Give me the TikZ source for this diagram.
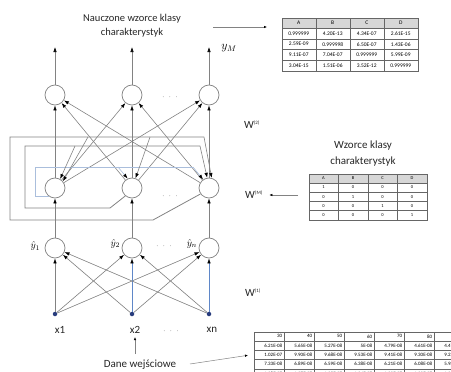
\documentclass[tikz,border=0pt]{standalone}
\usepackage{fontspec}
\setmainfont{Carlito}
\usetikzlibrary{arrows.meta,matrix,positioning}
\definecolor{Szary}{RGB}{130,130,130}
\definecolor{JasnySzary}{RGB}{215,215,215}
\definecolor{Niebieski}{RGB}{95,135,200}
\definecolor{JasnyNiebieski}{RGB}{170,190,220}
\definecolor{Granat}{RGB}{40,60,125}

\begin{document}
\begin{tikzpicture}[x=1pt,y=-1pt,
    neuron/.style={circle,draw=Szary,fill=white,minimum size=20pt,inner sep=0pt,line width=0.7pt},
    wejscie/.style={circle,fill=Granat,minimum size=4.5pt,inner sep=0pt},
    pol/.style={draw=Szary,line width=0.6pt,-{Latex[length=5pt,width=3.5pt,color=black]}},
    petla/.style={draw=Szary,line width=0.8pt},
    strzalka/.style={draw=Szary,line width=0.5pt,-{Latex[length=3pt,width=2.5pt,color=black]}},
    napis/.style={font=\fontsize{10.5}{14}\selectfont,align=center,text=black!85},
    etykieta/.style={font=\fontsize{11}{11}\selectfont,text=black!85},
    kropki/.style={font=\fontsize{9}{9}\selectfont,text=Szary},
    tabela/.style={matrix of nodes,column sep=-0.4pt,row sep=-0.4pt,
      nodes={draw=black!60,line width=0.4pt,inner sep=0pt,anchor=center}}]
  \useasboundingbox (0,0) rectangle (451,372);
  \clip (0,0) rectangle (451,372);

  %Warstwa wyjsciowa
  \node[neuron] (t1) at (55,95) {};
  \node[neuron] (t2) at (132,95) {};
  \node[neuron] (t3) at (209,95) {};
  \node[kropki] (k1) at (170,97) {$\cdot\ \cdot\ \cdot$};
  \coordinate (o1) at (55,47);
  \coordinate (o2) at (132,47);
  \coordinate (o3) at (209,47);
  \node (yM) at (229,48) {\fontsize{12}{12}\selectfont$y_M$};
  \node[napis] (nauczone) at (132,26) {Nauczone wzorce klasy\\charakterystyk};
  %Warstwa Hopfielda
  \node[neuron] (h1) at (55,188) {};
  \node[neuron] (h2) at (132,188) {};
  \node[neuron] (h3) at (209,188) {};
  \node[kropki] (k2) at (170,196) {$\cdot\ \cdot\ \cdot$};
  %Warstwa ukryta
  \node[neuron] (y1) at (55,248) {};
  \node[neuron] (y2) at (132,248) {};
  \node[neuron] (y3) at (209,248) {};
  \node[left=1pt of y1, yshift=2pt] (ly1) {$\hat{y}_1$};
  \node[left=-2pt of y2, yshift=4pt] (ly2) {$\hat{y}_2$};
  \node[left=-2pt of y3, yshift=4pt] (ly3) {$\hat{y}_n$};
  \node[kropki] (k3) at (164,246) {$\cdot\ \cdot\ \cdot$};
  %Wejscia
  \node[wejscie] (x1) at (55,314) {};
  \node[wejscie] (x2) at (132,314) {};
  \node[wejscie] (x3) at (209,314) {};
  \node[etykieta] (lx1) at (60,330) {x1};
  \node[etykieta] (lx2) at (135,330) {x2};
  \node[etykieta] (lx3) at (212,330) {xn};
  \node[kropki] (k4) at (171,331) {$\cdot\ \cdot\ \cdot$};
  \node[etykieta] (dane) at (140,365) {Dane wejściowe};

  %Wagi
  \node[etykieta] (w2) at (252,125) {W\textsuperscript{\fontsize{5}{5}\selectfont(2)}};
  \node[etykieta] (wM) at (254,195) {W\textsuperscript{\fontsize{5}{5}\selectfont(M)}};
  \node[etykieta] (w1) at (253,293) {W\textsuperscript{\fontsize{5}{5}\selectfont(1)}};

  %Tabele
  \matrix (tabA) [tabela,anchor=north west,
      nodes={minimum width=34pt,minimum height=10.6pt,font=\fontsize{5.5}{5.5}\selectfont},
      row 1/.style={nodes={fill=JasnySzary}}] at (278,14) {
    A & B & C & D \\
    0.999999 & 4.20E-13 & 4.34E-07 & 2.61E-15 \\
    2.59E-09 & 0.999998 & 6.50E-07 & 1.43E-06 \\
    9.11E-07 & 7.04E-07 & 0.999999 & 5.99E-09 \\
    3.04E-15 & 1.51E-06 & 3.52E-12 & 0.999999 \\
  };
  \node[napis,font=\fontsize{11}{16}\selectfont] (wzorce) at (363,154) {Wzorce klasy\\charakterystyk};
  \matrix (tabB) [tabela,anchor=north west,
      nodes={minimum width=29.5pt,minimum height=9.2pt,font=\fontsize{4.5}{4.5}\selectfont},
      row 1/.style={nodes={fill=JasnySzary}}] at (305,170) {
    A & B & C & D \\
    1 & 0 & 0 & 0 \\
    0 & 1 & 0 & 0 \\
    0 & 0 & 1 & 0 \\
    0 & 0 & 0 & 1 \\
  };
  \matrix (tabC) [tabela,anchor=north west,
      nodes={text width=27pt,align=right,inner xsep=1.5pt,minimum height=9.3pt,font=\fontsize{5}{5}\selectfont}] at (250,328) {
    30 & 40 & 50 & 60 & 70 & 80 & 90 \\
    6.21E-08 & 5.65E-08 & 5.27E-08 & 5E-08 & 4.79E-08 & 4.61E-08 & 4.47E-08 \\
    1.02E-07 & 9.90E-08 & 9.68E-08 & 9.53E-08 & 9.41E-08 & 9.30E-08 & 9.22E-08 \\
    7.33E-08 & 6.89E-08 & 6.59E-08 & 6.38E-08 & 6.21E-08 & 6.08E-08 & 5.98E-08 \\
    1.08E-07 & 1.07E-07 & 1.05E-07 & 1.04E-07 & 1.03E-07 & 1.02E-07 & 1.02E-07 \\
  };

  %Polaczenia wejscie -> warstwa ukryta
  \draw[pol] (x1) -- (y1);
  \draw[pol] (x1) -- (y2);
  \draw[pol] (x1) -- (y3);
  \draw[pol] (x2) -- (y1);
  \draw[pol,draw=Niebieski] (x2) -- (y2);
  \draw[pol] (x2) -- (y3);
  \draw[pol] (x3) -- (y1);
  \draw[pol] (x3) -- (y2);
  \draw[pol,draw=Niebieski] (x3) -- (y3);
  %Warstwa ukryta -> Hopfield
  \draw[pol] (y1) -- (h1);
  \draw[pol] (y2) -- (h2);
  \draw[pol] (y3) -- (h3);
  %Hopfield -> wyjscie
  \draw[pol] (h1) -- (t1);
  \draw[pol] (h1) -- (t2);
  \draw[pol] (h1) -- (t3);
  \draw[pol] (h2) -- (t1);
  \draw[pol] (h2) -- (t2);
  \draw[pol] (h2) -- (t3);
  \draw[pol] (h3) -- (t1);
  \draw[pol] (h3) -- (t2);
  \draw[pol] (h3) -- (t3);
  \draw[pol] (t1) -- (o1);
  \draw[pol] (t2) -- (o2);
  \draw[pol] (t3) -- (o3);

  %Petle sprzezenia zwrotnego
  \coordinate (p1) at (35,167);
  \coordinate (p2) at (193,167);
  \coordinate (p3) at (118,167);
  \draw[petla,draw=JasnyNiebieski] (h1.235) -| (p1) -- (p2);
  \draw[pol,draw=JasnyNiebieski] (p2) -- (h3.125);
  \draw[pol,draw=JasnyNiebieski] (p3) -- (h2.115);
  \coordinate (q1) at (110,208);
  \coordinate (q2) at (25,146);
  \coordinate (q3) at (200,146);
  \coordinate (q4) at (75,146);
  \draw[petla] (h2.230) -- (q1) -| (q2) -- (q3);
  \draw[pol] (q3) -- (h3.100);
  \draw[pol] (q4) -- (h1.60);
  \coordinate (r1) at (153,220);
  \coordinate (r2) at (10,137);
  \coordinate (r3) at (204,137);
  \coordinate (r4) at (88,137);
  \coordinate (r5) at (150,137);
  \draw[petla] (h3.215) -- (r1) -| (r2) -- (r3);
  \draw[pol] (r3) -- (h3.75);
  \draw[pol] (r4) -- (h1.40);
  \draw[pol] (r5) -- (h2.70);

  %Strzalki opisow
  \coordinate (s1) at (213,27);
  \draw[strzalka,shorten >=11pt] (s1) -- (s1 -| tabA.west);
  \draw[strzalka,shorten <=7pt,shorten >=3pt] (tabB.west |- wM) -- (wM.east);
  \coordinate (d1) at (135,354);
  \draw[strzalka] (d1) -- (lx2.south);
  \coordinate (d2) at (190,364);
  \draw[strzalka,shorten >=2pt] (d2) -- (tabC.west);
\end{tikzpicture}
\end{document}
